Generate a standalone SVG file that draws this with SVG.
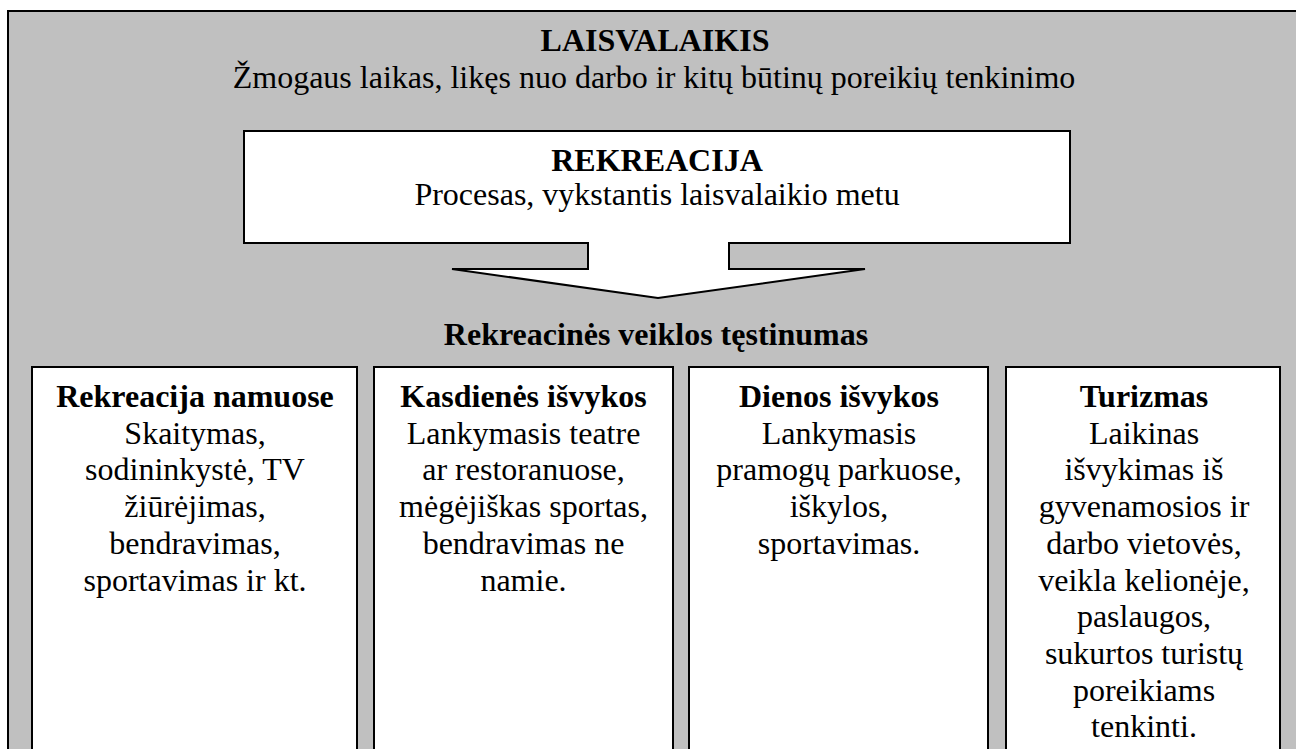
<svg xmlns="http://www.w3.org/2000/svg" width="1296" height="749" viewBox="0 0 1296 749">
<style>
.t{font-family:"Liberation Serif","Times New Roman",serif;font-size:32px;fill:#000;text-anchor:middle}
.b{font-weight:bold}
.box{fill:#fff;stroke:#000;stroke-width:2}
</style>
<rect width="1296" height="749" fill="#fff"/>
<g id="laisvalaikis">
<rect x="8" y="11" width="1300" height="760" fill="#c0c0c0" stroke="#000" stroke-width="2"/>
<text class="t b" x="655" y="51">LAISVALAIKIS</text>
<text class="t" x="654" y="88">Žmogaus laikas, likęs nuo darbo ir kitų būtinų poreikių tenkinimo</text>
</g>
<g id="rekreacija">
<path class="box" d="M244,131 H1070 V243 H729 V269 H865 L658,298 L452,269 H588 V243 H244 Z"/>
<text class="t b" x="657" y="171">REKREACIJA</text>
<text class="t" x="657" y="205">Procesas, vykstantis laisvalaikio metu</text>
</g>
<g id="connectors"></g>
<g id="testinumas">
<text class="t b" x="656" y="345">Rekreacinės veiklos tęstinumas</text>
</g>
<g id="namuose">
<rect class="box" x="32" y="367" width="325" height="400"/>
<text class="t" x="195" y="407"><tspan class="b" x="195">Rekreacija namuose</tspan><tspan x="195" dy="36.7">Skaitymas,</tspan><tspan x="195" dy="36.7">sodininkystė, TV</tspan><tspan x="195" dy="36.7">žiūrėjimas,</tspan><tspan x="195" dy="36.7">bendravimas,</tspan><tspan x="195" dy="36.7">sportavimas ir kt.</tspan></text>
</g>
<g id="kasdienes">
<rect class="box" x="374" y="367" width="299" height="400"/>
<text class="t" x="523.5" y="407"><tspan class="b" x="523.5">Kasdienės išvykos</tspan><tspan x="523.5" dy="36.7">Lankymasis teatre</tspan><tspan x="523.5" dy="36.7">ar restoranuose,</tspan><tspan x="523.5" dy="36.7">mėgėjiškas sportas,</tspan><tspan x="523.5" dy="36.7">bendravimas ne</tspan><tspan x="523.5" dy="36.7">namie.</tspan></text>
</g>
<g id="dienos">
<rect class="box" x="689" y="367" width="299" height="400"/>
<text class="t" x="839" y="407"><tspan class="b" x="839">Dienos išvykos</tspan><tspan x="839" dy="36.7">Lankymasis</tspan><tspan x="839" dy="36.7">pramogų parkuose,</tspan><tspan x="839" dy="36.7">iškylos,</tspan><tspan x="839" dy="36.7">sportavimas.</tspan></text>
</g>
<g id="turizmas">
<rect class="box" x="1006" y="367" width="274" height="400"/>
<text class="t" x="1144" y="407"><tspan class="b" x="1144">Turizmas</tspan><tspan x="1144" dy="36.7">Laikinas</tspan><tspan x="1144" dy="36.7">išvykimas iš</tspan><tspan x="1144" dy="36.7">gyvenamosios ir</tspan><tspan x="1144" dy="36.7">darbo vietovės,</tspan><tspan x="1144" dy="36.7">veikla kelionėje,</tspan><tspan x="1144" dy="36.7">paslaugos,</tspan><tspan x="1144" dy="36.7">sukurtos turistų</tspan><tspan x="1144" dy="36.7">poreikiams</tspan><tspan x="1144" dy="36.7">tenkinti.</tspan></text>
</g>
</svg>
